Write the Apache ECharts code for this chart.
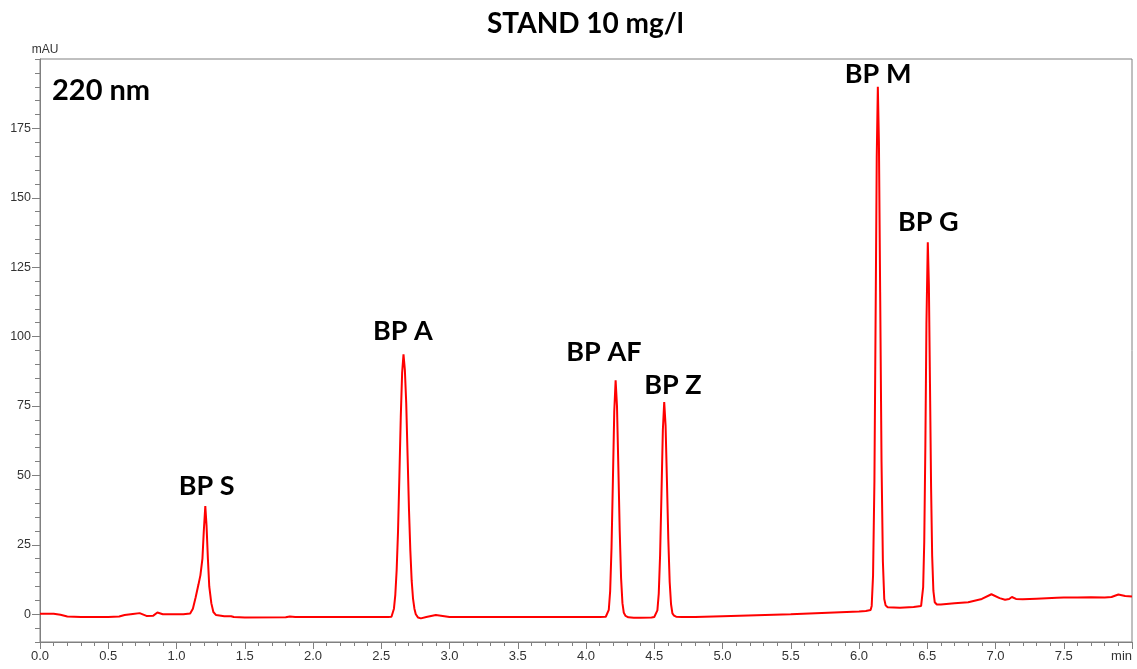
<!DOCTYPE html>
<html>
<head>
<meta charset="utf-8">
<script src="https://cdn.jsdelivr.net/npm/echarts@6/dist/echarts.min.js"></script>
<style>
html,body{margin:0;padding:0;background:#fff;}
#chart{width:1137px;height:669px;}
</style>
</head>
<body>
<div id="chart"></div>
<script>
// Retention time (min)
var timeMin = [
  0.00, 0.10, 0.15, 0.20, 0.30, 0.50, 0.58, 0.62, 0.68, 0.73, 0.78, 0.83, 0.86, 0.90, 1.05,
  1.10, 1.12, 1.14, 1.16, 1.175, 1.19, 1.20, 1.211, 1.22, 1.23, 1.24, 1.255, 1.27, 1.29,
  1.35, 1.40, 1.42, 1.50, 1.80, 1.83, 1.87, 2.00, 2.30, 2.55, 2.575,
  2.583, 2.593, 2.603, 2.613, 2.623, 2.633, 2.643, 2.653, 2.663, 2.673, 2.683, 2.693, 2.703, 2.713, 2.723, 2.733, 2.743, 2.753,
  2.77, 2.79, 2.83, 2.90, 2.95, 3.00, 3.50, 4.00, 4.10, 4.145,
  4.157, 4.167, 4.177, 4.187, 4.197, 4.207, 4.217, 4.227, 4.237, 4.247, 4.257, 4.267, 4.277, 4.29, 4.31,
  4.35, 4.40, 4.48, 4.50,
  4.513, 4.523, 4.533, 4.543, 4.553, 4.563, 4.573, 4.583, 4.593, 4.603, 4.613, 4.623, 4.633, 4.645, 4.66,
  4.70, 4.80, 5.00, 5.50, 6.00, 6.05, 6.085,
  6.093, 6.103, 6.113, 6.123, 6.130, 6.138, 6.146, 6.155, 6.165, 6.175, 6.185, 6.195, 6.21,
  6.30, 6.40, 6.455,
  6.462, 6.470, 6.478, 6.486, 6.494, 6.504, 6.512, 6.520, 6.528, 6.536, 6.545, 6.555, 6.57,
  6.60, 6.70, 6.80, 6.90, 6.97, 7.03, 7.07, 7.10, 7.12, 7.15, 7.20, 7.30, 7.45, 7.50, 7.60, 7.70, 7.80, 7.85, 7.90, 7.95, 8.00
];
// Absorbance (mAU) at each time above
var absorbance = [
  0.2, 0.2, -0.2, -0.8, -1.0, -1.0, -0.8, -0.3, 0.1, 0.4, -0.6, -0.5, 0.6, 0.0, 0.0,
  0.3, 2.0, 6.0, 10.5, 14.0, 20.0, 30.0, 39.0, 32.0, 20.0, 10.0, 4.0, 0.8, -0.3,
  -0.7, -0.7, -1.0, -1.2, -1.1, -0.8, -1.0, -1.0, -1.0, -1.0, -0.9,
  -0.5, 2.0, 7.0, 16.0, 30.0, 50.0, 71.0, 87.0, 93.6, 88.0, 76.0, 57.0, 38.0, 23.0, 12.0, 5.5, 2.0, 0.0,
  -1.2, -1.5, -1.0, -0.3, -0.6, -1.0, -1.0, -1.0, -1.0, -0.9,
  -0.4, 1.6, 8.3, 24.0, 48.0, 73.0, 84.3, 75.0, 53.0, 30.0, 13.0, 4.0, 0.5, -0.6, -1.1,
  -1.3, -1.3, -1.2, -1.0,
  -0.5, 1.4, 7.4, 21.5, 43.5, 66.3, 76.4, 68.0, 48.0, 27.0, 11.6, 3.6, 0.3, -0.5, -0.9,
  -1.0, -1.0, -0.7, 0.0, 1.0, 1.2, 1.5,
  3.0, 14.0, 48.0, 116.0, 165.0, 190.0, 170.0, 116.0, 55.0, 19.0, 5.5, 3.2, 2.5,
  2.3, 2.6, 3.0,
  3.5, 9.8, 26.0, 60.0, 104.5, 134.0, 118.5, 83.0, 46.0, 21.0, 8.4, 4.3, 3.5,
  3.5, 4.0, 4.3, 5.5, 7.2, 5.8, 5.2, 5.5, 6.2, 5.5, 5.4, 5.6, 5.9, 6.0, 6.0, 6.1, 6.0, 6.2, 7.1, 6.6, 6.4
];
// Peak names and where their labels sit (time, mAU)
var peakNames = ['BP S', 'BP A', 'BP AF', 'BP Z', 'BP M', 'BP G'];
var labelTime = [1.221, 2.658, 4.131, 4.637, 6.140, 6.507];
var labelMAU  = [46.2, 102.0, 94.5, 82.6, 194.6, 141.3];
var yMajorTicks = [0, 25, 50, 75, 100, 125, 150, 175];

var points = timeMin.map(function (t, i) { return [t, absorbance[i]]; });
var marks = peakNames.map(function (n, i) {
  return { name: n, coord: [labelTime[i], labelMAU[i]] };
});

var axisGray = '#808080';
var chart = echarts.init(document.getElementById('chart'), null, { renderer: 'canvas' });
chart.setOption({
  animation: false,
  backgroundColor: '#fff',
  title: [
    { text: 'STAND 10 mg/l', left: 482, top: 5,
      textStyle: { fontFamily: 'Lato', fontWeight: 'bold', fontSize: 28, color: '#000' } },
    { text: '220 nm', left: 47, top: 71,
      textStyle: { fontFamily: 'Lato', fontWeight: 'bold', fontSize: 29, color: '#000' } }
  ],
  grid: { left: 40, right: 5, top: 59, bottom: 27, show: true, borderColor: axisGray, borderWidth: 1, backgroundColor: 'transparent' },
  xAxis: {
    type: 'value', min: 0, max: 8, interval: 0.5,
    axisLine: { show: true, onZero: false, lineStyle: { color: axisGray, width: 1 } },
    axisTick: { show: true, length: 7, lineStyle: { color: axisGray } },
    minorTick: { show: true, splitNumber: 5, length: 4, lineStyle: { color: axisGray } },
    splitLine: { show: false },
    axisLabel: {
      color: '#333', fontFamily: 'Liberation Sans', fontSize: 13, margin: 8,
      alignMaxLabel: 'right',
      formatter: function (v) { return v >= 8 ? 'min' : v.toFixed(1); }
    }
  },
  yAxis: [
    {
      type: 'value', min: -10, max: 200,
      name: 'mAU', nameLocation: 'end', nameGap: 3,
      nameTextStyle: { color: '#333', fontFamily: 'Liberation Sans', fontSize: 12, align: 'center', padding: [0, 0, 0, 10] },
      axisLine: { show: true, onZero: false, lineStyle: { color: axisGray, width: 1 } },
      axisTick: { show: true, length: 8, customValues: yMajorTicks, lineStyle: { color: axisGray } },
      splitLine: { show: false },
      axisLabel: { color: '#333', fontFamily: 'Liberation Sans', fontSize: 12.5, margin: 9, customValues: yMajorTicks }
    },
    {
      type: 'value', min: -10, max: 200, interval: 5, position: 'left',
      axisLine: { show: false },
      axisTick: { show: true, length: 5, lineStyle: { color: axisGray } },
      axisLabel: { show: false },
      splitLine: { show: false }
    }
  ],
  series: [{
    type: 'line',
    data: points,
    showSymbol: false,
    symbol: 'none',
    lineStyle: { color: '#ff0000', width: 2 },
    itemStyle: { color: '#ff0000' },
    markPoint: {
      symbol: 'circle', symbolSize: 1,
      itemStyle: { color: 'rgba(0,0,0,0)' },
      label: { show: true, position: 'inside', formatter: '{b}', color: '#000',
        fontFamily: 'Lato', fontWeight: 'bold', fontSize: 27 },
      data: marks
    }
  }]
});
</script>
</body>
</html>
